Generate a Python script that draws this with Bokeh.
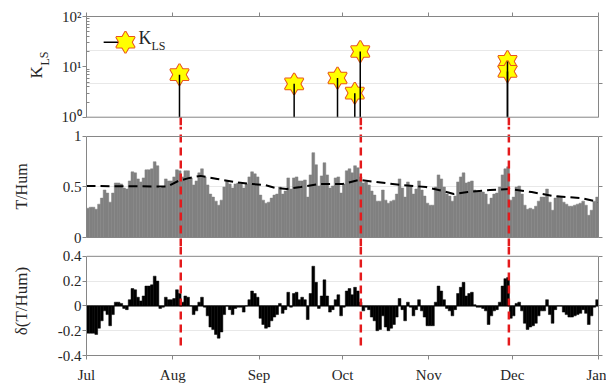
import pandas as pd
from bokeh.plotting import figure
from bokeh.layouts import column, row
from bokeh.models import (Range1d, LogAxis, LinearAxis, FixedTicker, MonthsTicker,
                          DatetimeTickFormatter, Span, Label, Grid, CustomJSTickFormatter)
from bokeh.embed import file_html
from bokeh.resources import INLINE

FONT = "Liberation Serif"
AX = "#868686"
GRIDC = "#e8e8e8"
TXT = "#262626"
RED = "#e41a1c"
BARGRAY = "#808080"
STAR_EDGE = "#e8541e"
DAY_MS = 86400000

# ---------------- data ----------------
day_start = pd.date_range("2019-07-01", periods=184, freq="D")
day_mid = day_start + pd.Timedelta(hours=12)

t_hum = [
    0.29, 0.30, 0.30, 0.28, 0.33, 0.39, 0.47, 0.44, 0.35, 0.44,
    0.54, 0.54, 0.53, 0.49, 0.48, 0.56, 0.65, 0.64, 0.58, 0.55,
    0.59, 0.67, 0.67, 0.68, 0.75, 0.71, 0.49, 0.50, 0.58, 0.56,
    0.56, 0.60, 0.67, 0.66, 0.60, 0.66, 0.66, 0.59, 0.52, 0.56,
    0.64, 0.68, 0.60, 0.52, 0.43, 0.40, 0.36, 0.32, 0.37, 0.50,
    0.56, 0.53, 0.49, 0.53, 0.54, 0.53, 0.49, 0.53, 0.60, 0.65,
    0.63, 0.60, 0.42, 0.37, 0.34, 0.35, 0.39, 0.42, 0.43, 0.50,
    0.43, 0.46, 0.59, 0.48, 0.59, 0.60, 0.56, 0.56, 0.57, 0.40,
    0.62, 0.84, 0.72, 0.51, 0.61, 0.74, 0.62, 0.49, 0.51, 0.59,
    0.60, 0.44, 0.53, 0.66, 0.68, 0.64, 0.71, 0.69, 0.60, 0.54,
    0.55, 0.52, 0.46, 0.42, 0.36, 0.36, 0.47, 0.37, 0.34, 0.36,
    0.37, 0.43, 0.58, 0.49, 0.40, 0.55, 0.51, 0.43, 0.48, 0.56,
    0.47, 0.41, 0.34, 0.32, 0.32, 0.50, 0.62, 0.58, 0.50, 0.43,
    0.41, 0.36, 0.41, 0.55, 0.60, 0.64, 0.54, 0.55, 0.56, 0.47,
    0.45, 0.45, 0.45, 0.43, 0.33, 0.39, 0.43, 0.44, 0.50, 0.62,
    0.68, 0.70, 0.37, 0.40, 0.50, 0.51, 0.43, 0.32, 0.28, 0.29,
    0.28, 0.31, 0.36, 0.40, 0.40, 0.48, 0.35, 0.27, 0.39, 0.41,
    0.40, 0.35, 0.33, 0.31, 0.31, 0.32, 0.33, 0.34, 0.36, 0.32,
    0.22, 0.27, 0.36, 0.40,
]

d_t_hum = [
    -0.22, -0.22, -0.22, -0.23, -0.18, -0.12, -0.04, -0.07, -0.16, -0.07,
    0.03, 0.03, 0.02, -0.02, -0.03, 0.05, 0.14, 0.13, 0.07, 0.04,
    0.08, 0.16, 0.16, 0.17, 0.24, 0.20, -0.02, -0.01, 0.07, 0.05,
    0.05, 0.06, 0.13, 0.10, 0.03, 0.08, 0.07, 0.00, -0.07, -0.04,
    0.03, 0.07, -0.01, -0.08, -0.17, -0.19, -0.23, -0.26, -0.21, -0.07,
    0.00, -0.03, -0.07, -0.02, -0.01, -0.01, -0.05, 0.00, 0.05, 0.12,
    0.10, 0.07, -0.10, -0.15, -0.18, -0.17, -0.12, -0.09, -0.07, 0.02,
    -0.06, -0.03, 0.11, -0.01, 0.10, 0.11, 0.05, 0.07, 0.05, -0.11,
    0.10, 0.32, 0.19, -0.02, 0.08, 0.21, 0.08, -0.05, -0.03, 0.05,
    0.09, -0.08, -0.01, 0.12, 0.14, 0.09, 0.15, 0.12, 0.03, -0.04,
    -0.01, -0.03, -0.09, -0.12, -0.20, -0.19, -0.08, -0.17, -0.20, -0.18,
    -0.15, -0.09, 0.06, -0.03, -0.12, 0.03, -0.01, -0.08, -0.03, 0.05,
    -0.04, -0.09, -0.16, -0.16, -0.16, 0.03, 0.16, 0.12, 0.05, -0.02,
    -0.04, -0.08, -0.03, 0.10, 0.15, 0.19, 0.08, 0.10, 0.11, 0.01,
    -0.01, -0.01, -0.02, -0.04, -0.15, -0.08, -0.04, -0.03, 0.03, 0.16,
    0.22, 0.23, -0.10, -0.08, 0.02, 0.03, -0.04, -0.14, -0.19, -0.17,
    -0.16, -0.14, -0.08, -0.04, -0.04, 0.05, -0.07, -0.14, -0.03, 0.00,
    0.00, -0.05, -0.07, -0.09, -0.09, -0.08, -0.07, -0.06, -0.03, -0.06,
    -0.15, -0.08, -0.01, 0.05,
]

trend_dates = pd.to_datetime([
    "2019-07-01", "2019-07-30", "2019-08-03", "2019-08-07", "2019-08-11",
    "2019-08-17", "2019-08-23", "2019-08-29", "2019-09-03", "2019-09-07",
    "2019-09-11", "2019-09-16", "2019-09-23", "2019-10-01", "2019-10-07",
    "2019-10-13", "2019-10-22", "2019-10-31", "2019-11-06", "2019-11-10",
    "2019-11-15", "2019-11-23", "2019-11-30", "2019-12-08", "2019-12-16",
    "2019-12-21", "2019-12-26", "2020-01-01",
])
trend_vals = [
    0.51, 0.505, 0.56, 0.59, 0.61, 0.58, 0.55, 0.53, 0.52, 0.49,
    0.48, 0.50, 0.53, 0.53, 0.57, 0.55, 0.52, 0.50, 0.46, 0.43,
    0.45, 0.47, 0.48, 0.45, 0.41, 0.40, 0.39, 0.35,
]

kls_dates = pd.to_datetime([
    "2019-08-03 10:00", "2019-09-13 15:00", "2019-09-29 05:00",
    "2019-10-05 10:00", "2019-10-07 09:00", "2019-11-29 07:00",
    "2019-11-29 07:00",
])
kls_vals = [7.0, 4.6, 6.0, 3.0, 20.2, 12.8, 8.1]

event_dates = pd.to_datetime(["2019-08-03 21:00", "2019-10-07 14:00", "2019-11-29 19:00"])

log_ticks = [1, 10, 100]
log_tick_labels = {1: "10⁰", 10: "10¹", 100: "10²"}
mid_ticks = [0, 0.5, 1]
mid_tick_labels = {0: "0", 0.5: "0.5", 1: "1"}
low_ticks = [-0.4, -0.2, 0, 0.2, 0.4]
low_tick_labels = {-0.4: "-0.4", -0.2: "-0.2", 0: "0", 0.2: "0.2", 0.4: "0.4"}

# ---------------- helpers ----------------
x_range = Range1d(pd.Timestamp("2019-07-01"), pd.Timestamp("2020-01-01"))
LABEL_W = 54  # width of the small column holding the rotated K_LS label


def months():
    return MonthsTicker(months=list(range(12)))


def blank():
    return CustomJSTickFormatter(code="return ''")


def style_axis(ax):
    ax.axis_line_color = AX
    ax.major_tick_line_color = AX
    ax.minor_tick_line_color = AX
    ax.major_tick_in = 0
    ax.major_tick_out = 4
    ax.minor_tick_in = 0
    ax.minor_tick_out = 0
    ax.major_label_standoff = 1
    ax.major_label_text_font = FONT
    ax.major_label_text_font_size = "15px"
    ax.major_label_text_color = TXT
    ax.axis_label_text_font = FONT
    ax.axis_label_text_font_style = "normal"
    ax.axis_label_text_font_size = "16px"
    ax.axis_label_text_color = TXT


def vgrid(p, lo, hi, color):
    p.add_layout(Grid(dimension=0, ticker=months(), bounds=(lo, hi),
                      grid_line_color=color, grid_line_width=1))


def hgrid(p, ticks, color=GRIDC):
    p.add_layout(Grid(dimension=1, ticker=FixedTicker(ticks=ticks),
                      grid_line_color=color, grid_line_width=1))


def hide_default_grids(p):
    for g in p.grid:
        g.visible = False


def make_fig(width, height, y_range, left=86, **kw):
    return figure(width=width, height=height, x_range=x_range, y_range=y_range,
                  x_axis_type="datetime", output_backend="svg", toolbar_location=None,
                  min_border_left=left, min_border_right=8, outline_line_color=None,
                  background_fill_color="white", border_fill_color="white", **kw)


def red_lines(p, y0, y1):
    p.segment(x0=event_dates, y0=y0, x1=event_dates, y1=y1, line_color=RED,
              line_width=2.5, line_dash="8 5")


def hexagram(p, xs, ys, size=18.5):
    # six-pointed star = two overlapping triangles; outline first, then fill over inner edges
    for mk in ("triangle", "inverted_triangle"):
        p.scatter(xs, ys, marker=mk, size=size, fill_color="#ffff00",
                  line_color=STAR_EDGE, line_width=2)
    for mk in ("triangle", "inverted_triangle"):
        p.scatter(xs, ys, marker=mk, size=size, fill_color="#ffff00",
                  line_color=None)


# ---------------- rotated y label for the top panel ----------------
lab = figure(width=LABEL_W, height=126, x_range=Range1d(0, 1), y_range=Range1d(0, 1),
             x_axis_location=None, y_axis_location=None, output_backend="svg",
             toolbar_location=None, min_border=0, outline_line_color=None)
lab.grid.visible = False
lab.add_layout(Label(x=45, y=48, x_units="screen", y_units="screen", text="K", angle=1.5708,
                     text_font=FONT, text_font_size="17px", text_color=TXT))
lab.add_layout(Label(x=51, y=61, x_units="screen", y_units="screen", text="LS", angle=1.5708,
                     text_font=FONT, text_font_size="12px", text_color=TXT))

# ---------------- top panel: K_LS ----------------
p1 = make_fig(606 - LABEL_W, 126, Range1d(0.6538, 100), left=86 - LABEL_W,
              y_axis_type="log", x_axis_location="above",
              min_border_top=16, min_border_bottom=0)
hide_default_grids(p1)
xa = p1.xaxis[0]
style_axis(xa)
xa.ticker = months()
xa.formatter = blank()
xa.major_label_text_font_size = "0px"
xa.major_label_standoff = 0
ya = p1.yaxis[0]
style_axis(ya)
ya.ticker = FixedTicker(ticks=log_ticks, minor_ticks=[2, 3, 4, 5, 6, 7, 8, 9, 20, 30, 40, 50, 60, 70, 80, 90])
ya.bounds = (1, 100)
ya.major_label_overrides = log_tick_labels
ya.minor_tick_in = 3
ra = LogAxis(ticker=FixedTicker(ticks=[10 ** (2 / 3), 10 ** (4 / 3)]), bounds=(1, 100), formatter=blank())
style_axis(ra)
ra.major_label_text_font_size = "0px"
ra.major_label_standoff = 0
p1.add_layout(ra, "right")
hgrid(p1, [10 ** (2 / 3), 10 ** (4 / 3)])
vgrid(p1, 1, 100, GRIDC)
vgrid(p1, 10 ** (-4 / 50.35), 1, AX)
p1.add_layout(Span(location=1, dimension="width", line_color=AX, line_width=1))

red_lines(p1, 1, 0.6538)
for i in range(len(kls_vals)):
    hexagram(p1, [kls_dates[i]], [kls_vals[i]])
p1.segment(x0=kls_dates, y0=1, x1=kls_dates, y1=kls_vals, line_color="black", line_width=1.5)

# legend (drawn by hand: line + hexagram + K_LS)
LEG_X0, LEG_X1 = pd.Timestamp("2019-07-07 04:00"), pd.Timestamp("2019-07-15 00:00")
LEG_Y = 30.8
p1.line([LEG_X0, LEG_X1], [LEG_Y, LEG_Y], line_color="black", line_width=1.5)
hexagram(p1, [LEG_X1], [LEG_Y])
p1.add_layout(Label(x=52, y=79, x_units="screen", y_units="screen", text="K",
                    text_font=FONT, text_font_size="18px", text_color=TXT))
p1.add_layout(Label(x=65, y=74, x_units="screen", y_units="screen", text="LS",
                    text_font=FONT, text_font_size="12px", text_color=TXT))

top_row = row(lab, p1, spacing=0)

# ---------------- middle panel: T/Hum ----------------
p2 = make_fig(606, 120, Range1d(-0.0891, 1.099), x_axis_location=None,
              min_border_top=0, min_border_bottom=0)
hide_default_grids(p2)
ya2 = p2.yaxis[0]
style_axis(ya2)
ya2.ticker = FixedTicker(ticks=mid_ticks)
ya2.bounds = (0, 1)
ya2.major_label_overrides = mid_tick_labels
ya2.axis_label = "T/Hum"
ya2.axis_label_standoff = 30
ra2 = LinearAxis(ticker=FixedTicker(ticks=mid_ticks), bounds=(0, 1), formatter=blank())
style_axis(ra2)
ra2.major_label_text_font_size = "0px"
ra2.major_label_standoff = 0
p2.add_layout(ra2, "right")
hgrid(p2, [0.5])
vgrid(p2, 0, 1, GRIDC)
vgrid(p2, 1, 1 + 4 / 101, AX)
vgrid(p2, -4 / 101, 0, AX)
p2.vbar(x=day_mid, width=DAY_MS, top=t_hum, bottom=0, fill_color=BARGRAY,
        line_color=BARGRAY, line_width=0.5)
p2.line(trend_dates, trend_vals, line_color="black", line_width=2, line_dash="9 5")
p2.add_layout(Span(location=0, dimension="width", line_color=AX, line_width=1))
p2.add_layout(Span(location=1, dimension="width", line_color=AX, line_width=1))
red_lines(p2, -0.0891, 1.099)

# ---------------- bottom panel: delta(T/Hum) ----------------
p3 = make_fig(606, 139, Range1d(-0.4, 0.4792), x_axis_location="below",
              min_border_top=0, min_border_bottom=28)
hide_default_grids(p3)
xa3 = p3.xaxis[0]
style_axis(xa3)
xa3.ticker = months()
xa3.formatter = DatetimeTickFormatter(months="%b", days="%b", years="%b")
xa3.major_label_standoff = 7
ya3 = p3.yaxis[0]
style_axis(ya3)
ya3.ticker = FixedTicker(ticks=low_ticks)
ya3.bounds = (-0.4, 0.4)
ya3.major_label_overrides = low_tick_labels
ya3.axis_label = "δ(T/Hum)"
ya3.axis_label_text_font_size = "17px"
ya3.axis_label_standoff = 24
ra3 = LinearAxis(ticker=FixedTicker(ticks=low_ticks), bounds=(-0.4, 0.4), formatter=blank())
style_axis(ra3)
ra3.major_label_text_font_size = "0px"
ra3.major_label_standoff = 0
p3.add_layout(ra3, "right")
hgrid(p3, [-0.2, 0.2])
vgrid(p3, -0.4, 0.4, GRIDC)
vgrid(p3, 0.4, 0.4 + 4 / 126.25, AX)
p3.vbar(x=day_mid, width=DAY_MS, top=d_t_hum, bottom=0, fill_color="black",
        line_color="black", line_width=0.5)
p3.add_layout(Span(location=0, dimension="width", line_color="black", line_width=1))
p3.add_layout(Span(location=0.4, dimension="width", line_color=AX, line_width=1))
red_lines(p3, 0.4792, -0.35)

layout = column(top_row, p2, p3, spacing=0)
open("out.html", "w").write(file_html(layout, INLINE))
